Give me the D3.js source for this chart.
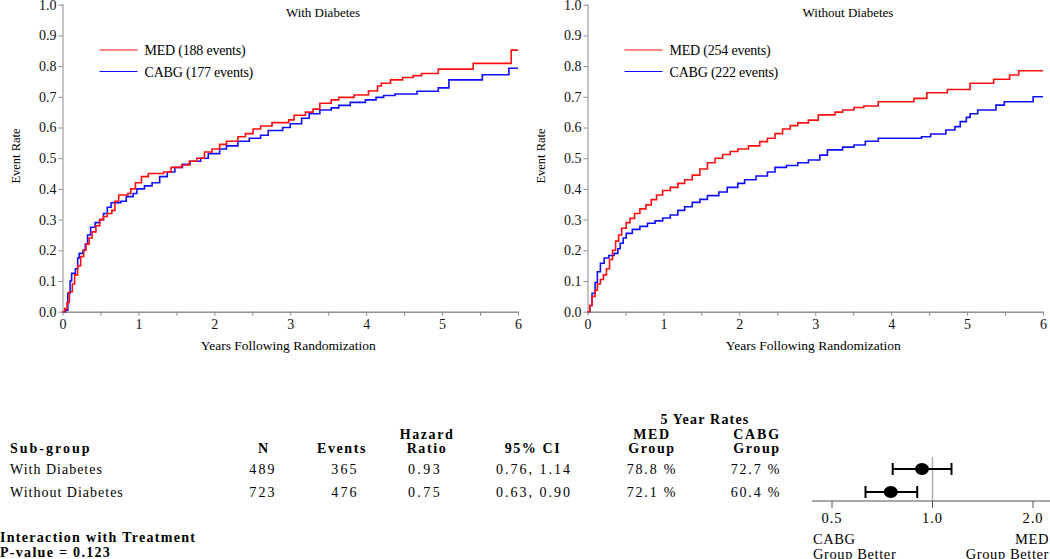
<!DOCTYPE html>
<html>
<head>
<meta charset="utf-8">
<script src="https://cdn.jsdelivr.net/npm/d3@7"></script>
<style>
  body { margin: 0; background: #fff; }
  svg { display: block; font-family: "Liberation Serif", "Times New Roman", serif; }
  .axis path, .axis line { stroke: #8a8a8a; }
  .axis text { font-family: "Liberation Serif", serif; font-size: 14px; fill: #111; }
</style>
</head>
<body>
<svg width="1050" height="559"></svg>
<script>
// Kaplan-Meier step points [years, event rate]
const medWithDiab = [[0,0],[0.03,0.01],[0.06,0.03],[0.09,0.065],[0.13,0.09],[0.16,0.12],[0.2,0.15],[0.24,0.18],[0.28,0.2],[0.31,0.22],[0.35,0.24],[0.39,0.26],[0.44,0.28],[0.49,0.3],[0.54,0.31],[0.59,0.32],[0.65,0.33],[0.69,0.36],[0.74,0.38],[0.86,0.385],[0.9,0.4],[0.96,0.42],[1.04,0.44],[1.13,0.45],[1.33,0.455],[1.43,0.47],[1.57,0.478],[1.67,0.49],[1.77,0.5],[1.87,0.52],[1.97,0.53],[2.07,0.545],[2.16,0.555],[2.31,0.57],[2.41,0.58],[2.51,0.595],[2.61,0.605],[2.76,0.616],[2.98,0.625],[3.05,0.64],[3.2,0.65],[3.3,0.66],[3.39,0.679],[3.54,0.69],[3.64,0.698],[3.84,0.706],[4.03,0.719],[4.15,0.735],[4.2,0.744],[4.32,0.755],[4.48,0.763],[4.62,0.769],[4.73,0.776],[4.95,0.79],[5.41,0.809],[5.91,0.852],[6.0,0.852]];
const cabgWithDiab = [[0,0],[0.04,0.005],[0.07,0.06],[0.1,0.1],[0.12,0.125],[0.17,0.14],[0.2,0.175],[0.22,0.19],[0.27,0.2],[0.3,0.22],[0.33,0.25],[0.37,0.275],[0.43,0.29],[0.49,0.3],[0.54,0.32],[0.59,0.34],[0.64,0.355],[0.77,0.36],[0.84,0.375],[0.93,0.385],[0.98,0.4],[1.08,0.41],[1.18,0.42],[1.28,0.44],[1.38,0.455],[1.48,0.47],[1.58,0.48],[1.68,0.49],[1.82,0.5],[1.92,0.515],[2.07,0.53],[2.16,0.54],[2.31,0.555],[2.46,0.565],[2.61,0.575],[2.71,0.59],[2.9,0.6],[3.0,0.612],[3.15,0.63],[3.25,0.645],[3.39,0.657],[3.54,0.664],[3.64,0.672],[3.79,0.682],[3.99,0.69],[4.13,0.698],[4.23,0.704],[4.38,0.709],[4.67,0.718],[4.95,0.729],[5.09,0.755],[5.53,0.772],[5.88,0.793],[6.0,0.793]];
const medNoDiab = [[0,0],[0.03,0.02],[0.06,0.05],[0.1,0.07],[0.13,0.09],[0.17,0.105],[0.21,0.12],[0.25,0.14],[0.29,0.17],[0.33,0.2],[0.37,0.23],[0.41,0.25],[0.45,0.272],[0.51,0.29],[0.56,0.304],[0.62,0.32],[0.69,0.335],[0.77,0.348],[0.84,0.365],[0.91,0.38],[0.99,0.395],[1.09,0.405],[1.19,0.418],[1.28,0.43],[1.38,0.445],[1.48,0.465],[1.58,0.485],[1.68,0.5],[1.78,0.512],[1.88,0.522],[1.98,0.53],[2.12,0.54],[2.27,0.554],[2.37,0.565],[2.47,0.58],[2.57,0.595],[2.67,0.606],[2.77,0.615],[2.91,0.624],[3.04,0.641],[3.26,0.65],[3.36,0.657],[3.51,0.665],[3.64,0.67],[3.83,0.684],[4.3,0.695],[4.47,0.713],[4.74,0.724],[5.04,0.744],[5.35,0.757],[5.56,0.771],[5.68,0.785],[6.0,0.785]];
const cabgNoDiab = [[0,0],[0.03,0.02],[0.06,0.06],[0.1,0.095],[0.13,0.13],[0.17,0.158],[0.22,0.175],[0.28,0.183],[0.35,0.19],[0.4,0.205],[0.43,0.223],[0.47,0.24],[0.51,0.255],[0.59,0.268],[0.69,0.278],[0.79,0.288],[0.89,0.296],[0.99,0.305],[1.09,0.315],[1.19,0.33],[1.28,0.342],[1.38,0.356],[1.48,0.366],[1.58,0.378],[1.73,0.39],[1.84,0.405],[1.98,0.418],[2.07,0.43],[2.22,0.442],[2.37,0.455],[2.47,0.47],[2.62,0.476],[2.77,0.485],[2.91,0.494],[3.06,0.51],[3.16,0.527],[3.36,0.536],[3.51,0.543],[3.66,0.555],[3.83,0.565],[4.4,0.57],[4.52,0.579],[4.72,0.592],[4.84,0.603],[4.91,0.619],[4.99,0.633],[5.04,0.645],[5.14,0.657],[5.38,0.673],[5.49,0.684],[5.87,0.7],[6.0,0.7]];

const panelTitles = ['With Diabetes', 'Without Diabetes'];
const medLabels = ['MED (188 events)', 'MED (254 events)'];
const cabgLabels = ['CABG (177 events)', 'CABG (222 events)'];
const yTicks = [0, 0.1, 0.2, 0.3, 0.4, 0.5, 0.6, 0.7, 0.8, 0.9, 1.0];
const xMajor = [0, 1, 2, 3, 4, 5, 6];
const xMinor = [0.5, 1.5, 2.5, 3.5, 4.5, 5.5];

// table
const subgroups = ['With Diabetes', 'Without Diabetes'];
const nPatients = ['489', '723'];
const nEvents = ['365', '476'];
const hazardRatio = [0.93, 0.75];
const ciLow = [0.76, 0.63];
const ciHigh = [1.14, 0.90];
const medRate5 = ['78.8 %', '72.1 %'];
const cabgRate5 = ['72.7 %', '60.4 %'];
const forestTicks = [0.5, 1, 2];

const svg = d3.select('svg');
const red = '#ff1010', blue = '#1010ff';

const y = d3.scaleLinear().domain([0, 1]).range([311.7, 4.7]);

const panels = [
  {x0: 62.5, title: panelTitles[0], titleX: 323, med: medWithDiab, cabg: cabgWithDiab, legend: [medLabels[0], cabgLabels[0]]},
  {x0: 587.5, title: panelTitles[1], titleX: 848, med: medNoDiab, cabg: cabgNoDiab, legend: [medLabels[1], cabgLabels[1]]}
];

panels.forEach(p => {
  const x = d3.scaleLinear().domain([0, 6]).range([p.x0, p.x0 + 455.5]);
  const g = svg.append('g');

  g.append('g')
    .attr('class', 'axis')
    .attr('transform', `translate(${p.x0},0)`)
    .call(d3.axisLeft(y).tickValues(yTicks).tickFormat(d3.format('.1f')).tickSize(4).tickPadding(2))
    .call(a => a.select('.domain').attr('d', `M-0.5,${y(1)}H0.5V${y(0)}`));

  g.append('g')
    .attr('class', 'axis')
    .attr('transform', `translate(0,${y(0)})`)
    .call(d3.axisBottom(x).tickValues(xMinor).tickFormat('').tickSize(4).tickSizeOuter(0));

  g.append('g')
    .attr('class', 'axis')
    .attr('transform', `translate(0,${y(0)})`)
    .call(d3.axisBottom(x).tickValues(xMajor).tickFormat(d3.format('d')).tickSize(4).tickSizeOuter(0).tickPadding(3));

  g.append('text')
    .attr('x', (x(0) + x(6)) / 2 - 2)
    .attr('y', 350)
    .attr('text-anchor', 'middle')
    .style('font-size', '13.5px')
    .text('Years Following Randomization');

  g.append('text')
    .attr('transform', `translate(${p.x0 - 43},156) rotate(-90)`)
    .attr('text-anchor', 'middle')
    .style('font-size', '12.5px')
    .text('Event Rate');

  g.append('text')
    .attr('x', p.titleX)
    .attr('y', 17)
    .attr('text-anchor', 'middle')
    .style('font-size', '13px')
    .text(p.title);

  const line = d3.line()
    .x(d => x(d[0]))
    .y(d => y(d[1]))
    .curve(d3.curveStepAfter);

  [[p.cabg, blue], [p.med, red]].forEach(([data, color]) => {
    g.append('path')
      .datum(data)
      .attr('fill', 'none')
      .attr('stroke', color)
      .attr('stroke-width', 1.6)
      .attr('d', line);
  });

  const legend = g.append('g')
    .attr('transform', `translate(${p.x0 + 37},0)`);
  [[p.legend[0], red, 50], [p.legend[1], blue, 71.5]].forEach(([label, color, ly]) => {
    legend.append('line')
      .attr('x1', 0).attr('x2', 38)
      .attr('y1', ly).attr('y2', ly)
      .attr('stroke', color)
      .attr('stroke-width', 1.2);
    legend.append('text')
      .attr('x', 45)
      .attr('y', ly + 5)
      .style('font-size', '14px')
      .style('letter-spacing', '-0.2px')
      .text(label);
  });
});

// table
const table = svg.append('g').style('font-size', '14px');
const cell = (tx, ty, txt, anchor, bold, ls) => table.append('text')
  .attr('x', tx)
  .attr('y', ty)
  .attr('text-anchor', anchor)
  .style('font-weight', bold ? 'bold' : 'normal')
  .style('letter-spacing', `${ls}px`)
  .text(txt);

cell(705, 424, '5 Year Rates', 'middle', true, 1.2);
cell(427, 439, 'Hazard', 'middle', true, 1.6);
cell(652, 439, 'MED', 'middle', true, 1.6);
cell(757, 439, 'CABG', 'middle', true, 1.8);
cell(10, 453, 'Sub-group', 'start', true, 2);
cell(263, 453, 'N', 'middle', true, 0);
cell(342, 453, 'Events', 'middle', true, 1.6);
cell(427, 453, 'Ratio', 'middle', true, 1.6);
cell(533, 453, '95% CI', 'middle', true, 1.6);
cell(652, 453, 'Group', 'middle', true, 1.6);
cell(757, 453, 'Group', 'middle', true, 1.6);

const fmt2 = d3.format('.2f');
const rowY = [474, 497];
subgroups.forEach((s, i) => {
  cell(10, rowY[i], s, 'start', false, 1);
  cell(263, rowY[i], nPatients[i], 'middle', false, 2.2);
  cell(345, rowY[i], nEvents[i], 'middle', false, 2.2);
  cell(425, rowY[i], fmt2(hazardRatio[i]), 'middle', false, 2.4);
  cell(534, rowY[i], `${fmt2(ciLow[i])}, ${fmt2(ciHigh[i])}`, 'middle', false, 2);
  cell(652, rowY[i], medRate5[i], 'middle', false, 1.8);
  cell(756, rowY[i], cabgRate5[i], 'middle', false, 1.8);
});

cell(0, 542, 'Interaction with Treatment', 'start', true, 1.3);
cell(0, 557, 'P-value = 0.123', 'start', true, 1.3);

// forest plot
const fx = d3.scaleLog().base(2).domain([0.5, 2]).range([832, 1033]);
const forest = svg.append('g');
const rowMid = [469, 492];

forest.append('line')
  .attr('x1', fx(1)).attr('x2', fx(1))
  .attr('y1', 457).attr('y2', 501)
  .attr('stroke', '#b0b0b0')
  .attr('stroke-width', 1.5);

forest.append('line')
  .attr('x1', 812).attr('x2', 1050)
  .attr('y1', 501).attr('y2', 501)
  .attr('stroke', '#555')
  .attr('stroke-width', 1.2);

forest.selectAll('.ftick')
  .data(forestTicks)
  .enter()
  .append('line')
  .attr('x1', d => fx(d)).attr('x2', d => fx(d))
  .attr('y1', 501).attr('y2', 508)
  .attr('stroke', '#555');

forest.selectAll('.flabel')
  .data(forestTicks)
  .enter()
  .append('text')
  .attr('x', d => fx(d))
  .attr('y', 523)
  .attr('text-anchor', 'middle')
  .style('font-size', '14.5px')
  .style('letter-spacing', '1px')
  .text(d => d3.format('.1f')(d));

subgroups.forEach((s, i) => {
  const cy = rowMid[i];
  forest.append('line')
    .attr('x1', fx(ciLow[i])).attr('x2', fx(ciHigh[i]))
    .attr('y1', cy).attr('y2', cy)
    .attr('stroke', '#000').attr('stroke-width', 2);
  [ciLow[i], ciHigh[i]].forEach(v => forest.append('line')
    .attr('x1', fx(v)).attr('x2', fx(v))
    .attr('y1', cy - 6).attr('y2', cy + 6)
    .attr('stroke', '#000').attr('stroke-width', 2));
  forest.append('ellipse')
    .attr('cx', fx(hazardRatio[i]))
    .attr('cy', cy)
    .attr('rx', 7).attr('ry', 6)
    .attr('fill', '#000');
});

const fnote = (tx, ty, txt, anchor) => forest.append('text')
  .attr('x', tx).attr('y', ty)
  .attr('text-anchor', anchor)
  .style('font-size', '14.5px')
  .style('letter-spacing', '0.6px')
  .text(txt);
fnote(813, 544, 'CABG', 'start');
fnote(813, 559, 'Group Better', 'start');
fnote(1049, 544, 'MED', 'end');
fnote(1049, 559, 'Group Better', 'end');
</script>
</body>
</html>
